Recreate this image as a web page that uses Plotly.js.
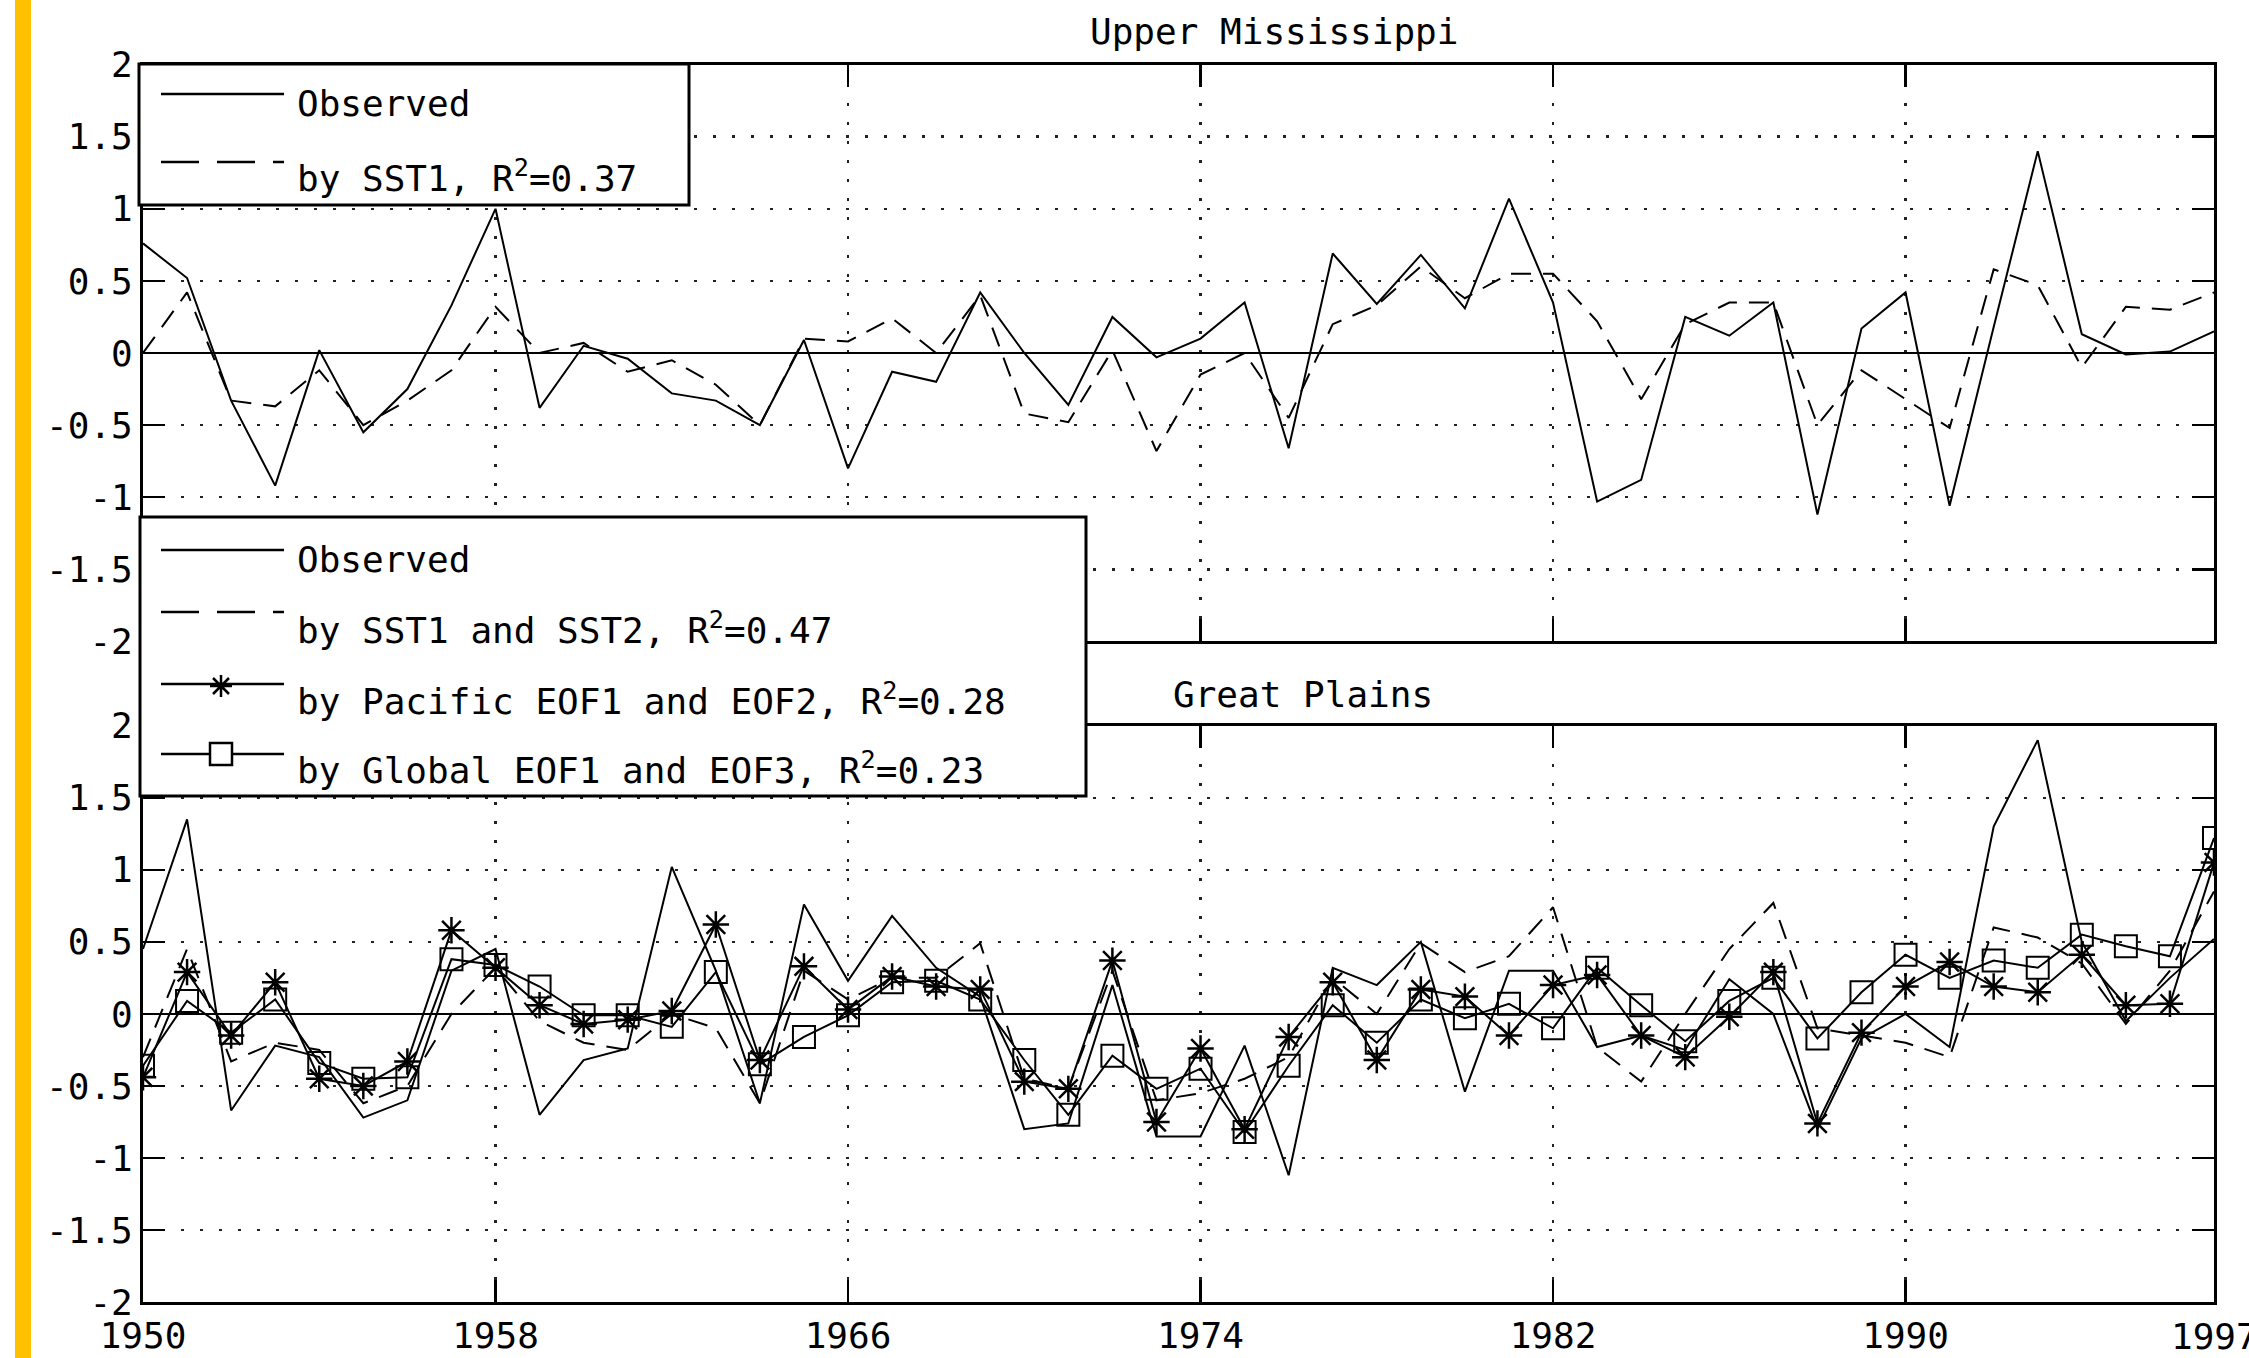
<!DOCTYPE html>
<html>
<head>
<meta charset="utf-8">
<script src="https://cdn.plot.ly/plotly-3.0.1.min.js"></script>
<style>
  html, body { margin: 0; padding: 0; background: #fff; }
  #chart { width: 2249px; height: 1358px; }
</style>
</head>
<body>
<div id="chart"></div>
<script>
// ---------------- DATA ----------------
const years = [1950,1951,1952,1953,1954,1955,1956,1957,1958,1959,
               1960,1961,1962,1963,1964,1965,1966,1967,1968,1969,
               1970,1971,1972,1973,1974,1975,1976,1977,1978,1979,
               1980,1981,1982,1983,1984,1985,1986,1987,1988,1989,
               1990,1991,1992,1993,1994,1995,1996,1997];

// Upper Mississippi
const umObserved = [0.76,0.52,-0.33,-0.92,0.02,-0.55,-0.25,0.33,1.00,-0.38,
                    0.05,-0.04,-0.28,-0.33,-0.50,0.09,-0.80,-0.13,-0.20,0.42,
                    0.00,-0.36,0.25,-0.03,0.10,0.35,-0.66,0.69,0.34,0.68,
                    0.31,1.07,0.35,-1.03,-0.88,0.25,0.12,0.35,-1.12,0.17,
                    0.42,-1.06,0.18,1.40,0.13,-0.01,0.01,0.15];
const umSST1 = [0.00,0.42,-0.33,-0.37,-0.12,-0.50,-0.33,-0.12,0.32,0.00,
                0.07,-0.13,-0.05,-0.22,-0.50,0.10,0.08,0.24,0.00,0.40,
                -0.42,-0.48,0.02,-0.68,-0.15,0.00,-0.45,0.20,0.33,0.60,
                0.38,0.55,0.55,0.22,-0.32,0.20,0.35,0.35,-0.50,-0.12,
                -0.32,-0.52,0.58,0.47,-0.10,0.32,0.30,0.42];

// Great Plains
const gpObserved = [0.45,1.35,-0.67,-0.22,-0.30,-0.72,-0.60,0.30,0.45,-0.70,
                    -0.32,-0.24,1.02,0.30,-0.62,0.76,0.23,0.68,0.32,0.12,
                    -0.80,-0.76,0.20,-0.85,-0.85,-0.22,-1.12,0.32,0.20,0.50,
                    -0.54,0.30,0.30,-0.23,-0.15,-0.25,0.24,0.00,-0.80,-0.17,
                    0.00,-0.23,1.30,1.90,0.50,-0.05,0.25,0.52];
const gpSST12 = [-0.30,0.45,-0.33,-0.20,-0.25,-0.62,-0.50,0.00,0.32,-0.05,
                 -0.20,-0.25,0.00,-0.10,-0.62,0.30,0.10,0.25,0.25,0.49,
                 -0.45,-0.52,0.30,-0.60,-0.55,-0.45,-0.30,0.25,0.00,0.49,
                 0.29,0.40,0.74,-0.23,-0.47,0.00,0.45,0.77,-0.10,-0.15,
                 -0.20,-0.30,0.60,0.53,0.35,-0.07,0.30,0.85];
const gpPacific = [-0.44,0.29,-0.15,0.22,-0.45,-0.50,-0.33,0.58,0.32,0.06,
                   -0.07,-0.04,0.02,0.62,-0.32,0.33,0.03,0.26,0.19,0.17,
                   -0.47,-0.52,0.37,-0.75,-0.24,-0.80,-0.16,0.22,-0.32,0.17,
                   0.12,-0.15,0.20,0.27,-0.15,-0.30,-0.02,0.29,-0.76,-0.13,
                   0.19,0.36,0.19,0.15,0.41,0.06,0.07,1.05];
const gpGlobal = [-0.36,0.09,-0.13,0.10,-0.34,-0.45,-0.44,0.38,0.34,0.19,
                  -0.01,-0.01,-0.09,0.29,-0.35,-0.16,-0.01,0.22,0.23,0.10,
                  -0.32,-0.70,-0.29,-0.52,-0.38,-0.82,-0.36,0.06,-0.20,0.10,
                  -0.03,0.07,-0.10,0.32,0.06,-0.19,0.09,0.25,-0.17,0.15,
                  0.41,0.25,0.37,0.32,0.55,0.47,0.40,1.22];

const xTickVals = [1950,1958,1966,1974,1982,1990,1997];
const xTickText = ["1950","1958","1966","1974","1982","1990","1997"];
const yTickVals = [-2,-1.5,-1,-0.5,0,0.5,1,1.5,2];
const yTickText = ["-2","-1.5","-1","-0.5","0","0.5","1","1.5","2"];

const titleTop = "Upper Mississippi";
const titleBottom = "Great Plains";
const legendTop = ["Observed", "by SST1, R<sup>2</sup>=0.37"];
const legendBottom = ["Observed",
                      "by SST1 and SST2, R<sup>2</sup>=0.47",
                      "by Pacific EOF1 and EOF2, R<sup>2</sup>=0.28",
                      "by Global EOF1 and EOF3, R<sup>2</sup>=0.23"];

// ---------------- LAYOUT HELPERS ----------------
const W = 2249, H = 1358;
const px = v => v / W;
const py = v => 1 - v / H;
const FONT = "DejaVu Sans Mono";
const FS = 36;
const INK = "#000";
const DASH = "20px,12px";

const xDom = [px(143), px(2214)];
const yDomTop = [py(641.4), py(64.6)];
const yDomBot = [py(1302.1), py(725.7)];

function xAxis(anchor, showLabels) {
  return {
    domain: xDom, range: [1950, 1997], anchor: anchor,
    tickmode: "array", tickvals: xTickVals, ticktext: xTickText,
    showticklabels: showLabels,
    ticks: "inside", ticklen: 22, tickwidth: 2.5, tickcolor: INK,
    showline: true, mirror: "ticks", linewidth: 3, linecolor: INK,
    showgrid: true, gridcolor: "#222", gridwidth: 2.5, griddash: "3px,16px",
    zeroline: false, automargin: false, fixedrange: true,
    tickfont: {family: FONT, size: FS, color: INK}
  };
}
function yAxis(anchor, dom) {
  return {
    domain: dom, range: [-2, 2], anchor: anchor,
    tickmode: "array", tickvals: yTickVals, ticktext: yTickText,
    ticks: "inside", ticklen: 22, tickwidth: 2.5, tickcolor: INK,
    showline: true, mirror: "ticks", linewidth: 3, linecolor: INK,
    showgrid: true, gridcolor: "#222", gridwidth: 2.5, griddash: "3px,16px",
    zeroline: true, zerolinecolor: INK, zerolinewidth: 2.5,
    automargin: false, fixedrange: true,
    tickfont: {family: FONT, size: FS, color: INK}
  };
}

const lineStyle = {color: INK, width: 2};
const traces = [
  {x: years, y: umObserved, xaxis: "x2", yaxis: "y2", mode: "lines",
   line: lineStyle, name: "Observed"},
  {x: years, y: umSST1, xaxis: "x2", yaxis: "y2", mode: "lines",
   line: {color: INK, width: 2, dash: DASH}, name: "by SST1"},
  {x: years, y: gpObserved, xaxis: "x", yaxis: "y", mode: "lines",
   line: lineStyle, name: "Observed"},
  {x: years, y: gpSST12, xaxis: "x", yaxis: "y", mode: "lines",
   line: {color: INK, width: 2, dash: DASH}, name: "by SST1 and SST2"},
  {x: years, y: gpPacific, xaxis: "x", yaxis: "y", mode: "lines+markers",
   line: lineStyle, name: "by Pacific EOF1 and EOF2",
   marker: {symbol: "asterisk-open", size: 22, color: INK, line: {color: INK, width: 2.5}}},
  {x: years, y: gpGlobal, xaxis: "x", yaxis: "y", mode: "lines+markers",
   line: lineStyle, name: "by Global EOF1 and EOF3",
   marker: {symbol: "square-open", size: 22, color: INK, line: {color: INK, width: 2}}}
];

// ---------------- LEGENDS (drawn as boxes + samples + text) ----------------
const shapes = [];
const annotations = [];

// orange side bar
shapes.push({type: "rect", xref: "paper", yref: "paper",
  x0: px(15), x1: px(31), y0: 0, y1: 1, fillcolor: "#FFC000", line: {width: 0}, layer: "below"});

function box(x0, y0, x1, y1) {
  shapes.push({type: "rect", xref: "paper", yref: "paper",
    x0: px(x0), x1: px(x1), y0: py(y1), y1: py(y0),
    fillcolor: "#fff", line: {color: INK, width: 3}, layer: "above"});
}
function sample(yPix, dashed) {
  shapes.push({type: "line", xref: "paper", yref: "paper",
    x0: px(161), x1: px(284), y0: py(yPix), y1: py(yPix),
    line: {color: INK, width: 2.5, dash: dashed ? "38px,18px" : "solid"}, layer: "above"});
}
function label(text, yPix) {
  annotations.push({xref: "paper", yref: "paper", x: px(295), y: py(yPix),
    xanchor: "left", yanchor: "middle", showarrow: false, text: text,
    font: {family: FONT, size: FS, color: INK}});
}

// top legend
box(139, 64, 689, 205);
sample(94, false);  label(legendTop[0], 104);
sample(162, true);  label(legendTop[1], 176);

// bottom legend
box(140, 517, 1086, 796);
sample(550, false); label(legendBottom[0], 559);
sample(612, true);  label(legendBottom[1], 628);
sample(684, false); label(legendBottom[2], 699);
sample(754, false); label(legendBottom[3], 768);

// legend marker: asterisk
(function () {
  const cx = 221, cy = 686, r = 11, d = 8;
  const p = `M${px(cx - r)},${py(cy)} L${px(cx + r)},${py(cy)} ` +
            `M${px(cx)},${py(cy - r)} L${px(cx)},${py(cy + r)} ` +
            `M${px(cx - d)},${py(cy - d)} L${px(cx + d)},${py(cy + d)} ` +
            `M${px(cx - d)},${py(cy + d)} L${px(cx + d)},${py(cy - d)}`;
  shapes.push({type: "path", xref: "paper", yref: "paper", path: p,
    line: {color: INK, width: 2.5}, layer: "above"});
})();
// legend marker: square
shapes.push({type: "rect", xref: "paper", yref: "paper",
  x0: px(210), x1: px(232), y0: py(765), y1: py(743),
  fillcolor: "#fff", line: {color: INK, width: 2.5}, layer: "above"});

// panel titles
annotations.push({xref: "paper", yref: "paper", x: px(1274), y: py(31),
  xanchor: "center", yanchor: "middle", showarrow: false, text: titleTop,
  font: {family: FONT, size: FS, color: INK}});
annotations.push({xref: "paper", yref: "paper", x: px(1303), y: py(694),
  xanchor: "center", yanchor: "middle", showarrow: false, text: titleBottom,
  font: {family: FONT, size: FS, color: INK}});

// last x tick label (Plotly drops it because it runs past the page edge)
annotations.push({xref: "x", yref: "paper", x: xTickVals[xTickVals.length - 1], y: py(1336),
  xanchor: "center", yanchor: "middle", showarrow: false,
  text: xTickText[xTickText.length - 1],
  font: {family: FONT, size: FS, color: INK}});

const layout = {
  width: W, height: H,
  margin: {l: 0, r: 0, t: 0, b: 0},
  paper_bgcolor: "#fff", plot_bgcolor: "#fff",
  showlegend: false,
  xaxis: xAxis("y", true),
  yaxis: yAxis("x", yDomBot),
  xaxis2: xAxis("y2", false),
  yaxis2: yAxis("x2", yDomTop),
  shapes: shapes,
  annotations: annotations
};

Plotly.newPlot("chart", traces, layout, {displayModeBar: false, staticPlot: true});
</script>
</body>
</html>
